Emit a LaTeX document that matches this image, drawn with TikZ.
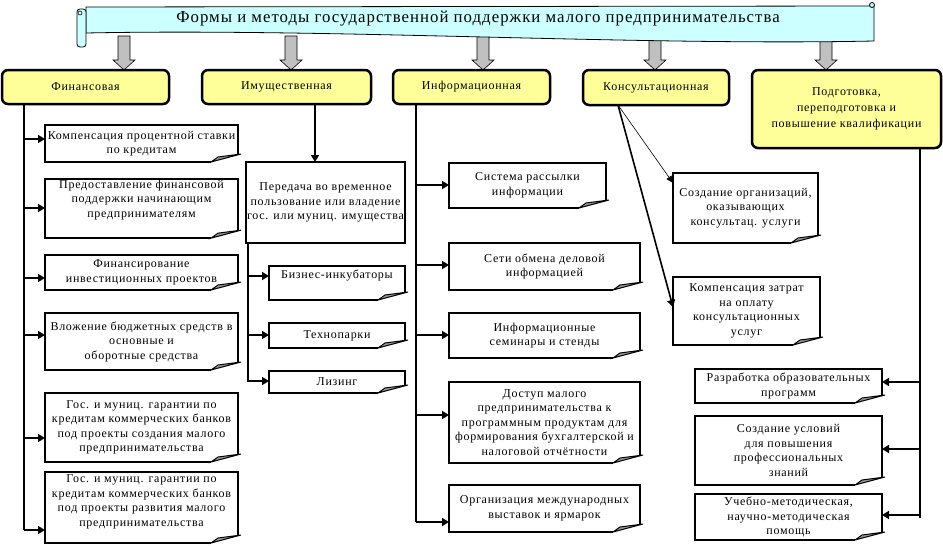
\documentclass[tikz,border=0pt]{standalone}
\usepackage{fontspec}
\setmainfont{Liberation Serif}[LetterSpace=6]
\usetikzlibrary{arrows.meta,calc}
\definecolor{catyellow}{RGB}{255,255,153}
\definecolor{scrollcyan}{RGB}{204,255,255}
\definecolor{arrowgray}{RGB}{192,192,192}
\definecolor{foldgray}{RGB}{150,150,150}
\tikzset
{
    % Style for the yellow category boxes
    category/.style=
    {
        draw,
        line width=2.5pt,
        rounded corners=6pt,
        fill=catyellow,
        align=center,
        inner sep=1pt,
        outer sep=0pt
    },
    % Style for the document boxes, their frame is drawn afterwards
    doc/.style=
    {
        align=center,
        inner sep=1pt,
        outer sep=0pt,
        font=\fontsize{12}{14.5}\selectfont
    },
    % Style for a box without folded corner
    plain doc/.style=
    {
        doc,
        draw,
        line width=2.5pt
    },
    % Frame of a document box
    frame/.style=
    {
        line width=2.5pt,
        line join=miter
    },
    % Folded corner
    fold/.style=
    {
        fill=foldgray,
        draw=black,
        line width=1pt,
        line join=miter
    },
    % Vertical lines
    trunk/.style=
    {
        line width=2.5pt
    },
    % Arrows to the boxes
    branch/.style=
    {
        line width=2.5pt,
        -{Triangle[length=7pt,width=8pt]}
    },
    thin branch/.style=
    {
        line width=0.6pt,
        -{Triangle[length=7pt,width=6pt]}
    },
    % Gray arrows below the scroll
    big arrow/.style=
    {
        fill=arrowgray,
        draw=black,
        line width=0.6pt
    },
    % The scroll with the title
    scroll/.style=
    {
        fill=scrollcyan,
        draw=black,
        line width=0.8pt
    }
}

\begin{document}
\begin{tikzpicture}[x=1pt,y=-1pt,font=\fontsize{12}{14.5}\selectfont]
    % Bounding box, same size as the reference
    \path [use as bounding box] (0,0) rectangle (943,546);

    % Gray arrows from the scroll to the categories
    \foreach \x in {124,291,483,655,826}
    {
        \draw[big arrow] (\x-6,36) -- (\x-6,60) -- (\x-11,60) -- (\x,70)
            -- (\x+11,60) -- (\x+6,60) -- (\x+6,36) -- cycle;
    }

    % Scroll
    \draw[scroll] (86,7) -- (874,6) -- (874,41)
        .. controls (640,46) and (330,28) .. (86,33) -- cycle;
    \draw[scroll, rounded corners=3pt] (77,9) rectangle (86,47);
    \draw[line width=0.6pt] (80,13) circle (2);
    \draw[scroll] (872,5) circle (2.5);
    \node (title) at (478,19) {\fontsize{16.8}{20}\selectfont
        Формы и методы государственной поддержки малого предпринимательства};

    % Categories
    \node[category, minimum width=167, minimum height=34] (fin) at (85.5,87) {Финансовая};
    \node[category, minimum width=169, minimum height=34] (prop) at (286.5,87) {Имущественная};
    \node[category, minimum width=157, minimum height=34] (info) at (471.5,87) {Информационная};
    \node[category, minimum width=146, minimum height=35] (cons) at (656,87.5) {Консультационная};
    \node[category, minimum width=189, minimum height=78,
          font=\fontsize{12}{16}\selectfont] (prep) at (846.5,109)
        {Подготовка,\\переподготовка и\\повышение квалификации};

    % Financial
    \node[doc, minimum width=193, minimum height=37] (f1) at (141.5,143.5)
        {Компенсация процентной ставки\\по кредитам};
    \node[doc, minimum width=193, minimum height=47] (f2) at (141.5,208.5)
        {Предоставление финансовой\\поддержки начинающим\\предпринимателям\\[5.5pt]\mbox{}};
    \node[doc, minimum width=193, minimum height=35] (f3) at (141.5,272.5)
        {Финансирование\\инвестиционных проектов};
    \node[doc, minimum width=193, minimum height=57] (f4) at (141.5,341.5)
        {Вложение бюджетных средств в\\основные и\\оборотные средства};
    \node[doc, minimum width=193, minimum height=69] (f5) at (141.5,427.5)
        {Гос. и муниц. гарантии по\\кредитам коммерческих банков\\под проекты создания малого\\предпринимательства};
    \node[doc, minimum width=193, minimum height=71] (f6) at (141.5,507.5)
        {Гос. и муниц. гарантии по\\кредитам коммерческих банков\\под проекты развития малого\\предпринимательства\\[-0.5pt]\mbox{}};

    % Property
    \node[plain doc, minimum width=159, minimum height=81] (p0) at (325.5,202.5)
        {Передача во временное\\пользование или владение\\гос. или муниц. имущества};
    \node[doc, minimum width=136, minimum height=34] (p1) at (337,283)
        {Бизнес-инкубаторы\\[3.5pt]\mbox{}};
    \node[doc, minimum width=136, minimum height=25] (p2) at (337,335.5) {Технопарки};
    \node[doc, minimum width=136, minimum height=22] (p3) at (337,382) {Лизинг};

    % Information
    \node[doc, minimum width=157, minimum height=45] (i1) at (527.5,185.5)
        {Система рассылки\\информации};
    \node[doc, minimum width=191, minimum height=47] (i2) at (544.5,266.5)
        {Сети обмена деловой\\информацией};
    \node[doc, minimum width=191, minimum height=45] (i3) at (544.5,335.5)
        {Информационные\\семинары и стенды};
    \node[doc, minimum width=191, minimum height=81] (i4) at (544.5,422.5)
        {Доступ малого\\предпринимательства к\\программным продуктам для\\формирования бухгалтерской и\\налоговой отчётности};
    \node[doc, minimum width=191, minimum height=47] (i5) at (544.5,508.5)
        {Организация международных\\выставок и ярмарок};

    % Consulting
    \node[doc, minimum width=145, minimum height=70] (c1) at (745.5,208)
        {Создание организаций,\\оказывающих\\консультац. услуги};
    \node[doc, minimum width=147, minimum height=68] (c2) at (746.5,311)
        {Компенсация затрат\\на оплату\\консультационных\\услуг};

    % Training
    \node[doc, minimum width=187, minimum height=34] (r1) at (788.5,386)
        {Разработка образовательных\\программ};
    \node[doc, minimum width=187, minimum height=69] (r2) at (788.5,450.5)
        {Создание условий\\для повышения\\профессиональных\\знаний};
    \node[doc, minimum width=187, minimum height=46] (r3) at (788.5,517)
        {Учебно-методическая,\\научно-методическая\\помощь};

    % Frames with folded corner
    \foreach \n in {f1,f2,f3,f4,f5,f6,p1,p2,p3,i1,i2,i3,i4,i5,c1,c2,r1,r2,r3}
    {
        \draw[frame] ($(\n.south east)+(0,-8)$) |- (\n.north west)
            |- ($(\n.south east)+(-27,0)$);
        \draw[fold] ($(\n.south east)+(-27,0)$) -- ($(\n.south east)+(3,-8)$)
            -- ($(\n.south east)+(-20,-5)$) -- cycle;
    }

    % Connectors
    %% Financial
    \coordinate (fin top) at (24,104);
    \draw[trunk] (fin top) -- (24,530);
    \foreach \n/\y in {f1/139,f2/208,f3/278,f4/335,f5/438,f6/530}
        \draw[branch] (24,\y) -- (\n.west |- 0,\y);
    %% Property
    \coordinate (prop top) at (315,104);
    \draw[branch] (prop top) -- (prop top |- p0.north);
    \coordinate (prop trunk) at (248,243);
    \draw[trunk] (prop trunk) -- (248,382);
    \foreach \n/\y in {p1/276,p2/335,p3/381}
        \draw[branch] (248,\y) -- (\n.west |- 0,\y);
    %% Information
    \coordinate (info top) at (416,104);
    \draw[trunk] (info top) -- (416,522);
    \foreach \n/\y in {i1/185,i2/265,i3/335,i4/415,i5/522}
        \draw[branch] (416,\y) -- (\n.west |- 0,\y);
    %% Consulting
    \coordinate (cons root) at (618,105);
    \draw[thin branch] (cons root) -- ($(c1.north west)+(0,10)$);
    \draw[branch, line width=1.6pt] (cons root) -- ($(c2.north west)+(0,30)$);
    %% Training
    \coordinate (prep top) at (920,148);
    \draw[trunk] (prep top) -- (920,518);
    \foreach \n/\y in {r1/382,r2/449,r3/515}
        \draw[branch] (920,\y) -- (\n.east |- 0,\y);
\end{tikzpicture}
\end{document}
